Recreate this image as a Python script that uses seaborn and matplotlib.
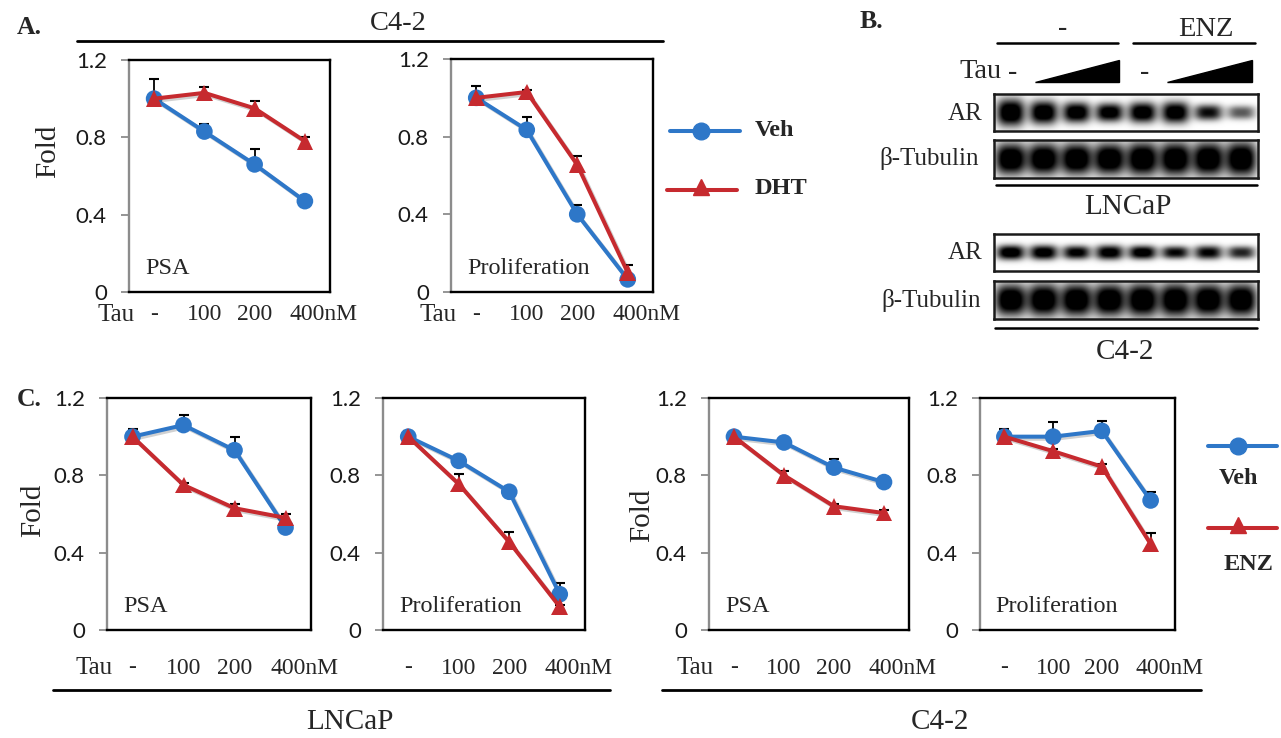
import numpy as np
import pandas as pd
import matplotlib
matplotlib.use("Agg")
import matplotlib.pyplot as plt
import matplotlib.patheffects as pe
from matplotlib.patches import Polygon
import seaborn as sns

W, H = 1281, 738

# ---------------- data ----------------
doses = ["-", "100", "200", "400nM"]

# A. C4-2 cells, Veh vs DHT
a_psa_veh = [1.00, 0.83, 0.66, 0.47]
a_psa_veh_err = [0.10, 0.04, 0.08, 0.01]
a_psa_dht = [1.00, 1.03, 0.95, 0.78]
a_psa_dht_err = [0.02, 0.03, 0.04, 0.02]
a_pro_veh = [1.00, 0.835, 0.40, 0.065]
a_pro_veh_err = [0.06, 0.065, 0.05, 0.02]
a_pro_dht = [1.00, 1.03, 0.655, 0.10]
a_pro_dht_err = [0.01, 0.01, 0.045, 0.04]

# C. LNCaP and C4-2 cells, Veh vs ENZ
c_lnc_psa_veh = [1.00, 1.06, 0.93, 0.53]
c_lnc_psa_veh_err = [0.04, 0.05, 0.07, 0.01]
c_lnc_psa_enz = [1.00, 0.75, 0.63, 0.58]
c_lnc_psa_enz_err = [0.01, 0.01, 0.02, 0.02]
c_lnc_pro_veh = [1.00, 0.875, 0.715, 0.185]
c_lnc_pro_veh_err = [0.03, 0.01, 0.01, 0.06]
c_lnc_pro_enz = [1.00, 0.755, 0.455, 0.12]
c_lnc_pro_enz_err = [0.01, 0.05, 0.05, 0.01]
c_c42_psa_veh = [1.00, 0.97, 0.84, 0.765]
c_c42_psa_veh_err = [0.01, 0.01, 0.045, 0.01]
c_c42_psa_enz = [1.00, 0.80, 0.64, 0.605]
c_c42_psa_enz_err = [0.01, 0.02, 0.01, 0.015]
c_c42_pro_veh = [1.00, 1.00, 1.03, 0.67]
c_c42_pro_veh_err = [0.04, 0.075, 0.05, 0.045]
c_c42_pro_enz = [1.00, 0.925, 0.845, 0.445]
c_c42_pro_enz_err = [0.01, 0.01, 0.015, 0.055]

# B. western blot, relative band intensity and band height (px) per lane
lanes = [1, 2, 3, 4, 5, 6, 7, 8]
lncap_ar = [1.0, 0.98, 0.95, 0.92, 0.95, 0.95, 0.78, 0.52]
lncap_ar_h = [28, 24, 21, 19, 21, 22, 16, 14]
lncap_tub = [1.0, 1.0, 1.0, 1.0, 1.0, 1.0, 1.0, 1.0]
lncap_tub_h = [32, 32, 32, 32, 34, 34, 34, 35]
c42_ar = [0.95, 0.92, 0.85, 0.90, 0.92, 0.80, 0.82, 0.70]
c42_ar_h = [15, 15, 14, 15, 14, 13, 14, 13]
c42_tub = [1.0, 1.0, 1.0, 1.0, 1.0, 1.0, 1.0, 1.0]
c42_tub_h = [32, 33, 33, 33, 34, 34, 33, 33]

BLUE = "#2e77c8"
RED = "#c62a2f"
SERIF = "Liberation Serif"
SANS = "Lato"


def px_axes(fig, x0, x1, y0, y1):
    return fig.add_axes([x0 / W, 1 - y1 / H, (x1 - x0) / W, (y1 - y0) / H])


#-----------------------------------------------
# One small Excel-style line chart
#-----------------------------------------------
def line_panel(ax, veh, veh_err, trt, trt_err, trt_name, label, tick_dy, tau):
    pos = list(range(len(doses)))
    df = pd.DataFrame({
        "pos": pos * 2,
        "fold": veh + trt,
        "group": ["Veh"] * 4 + [trt_name] * 4,
    })
    # upper error bars only
    for vals, errs in ((veh, veh_err), (trt, trt_err)):
        vals = np.array(vals)
        errs = np.array(errs)
        ax.errorbar(pos, vals, yerr=[np.zeros(4), errs], fmt="none",
                    ecolor="black", elinewidth=1.3, capsize=0, zorder=2)
        ax.scatter(pos, vals + errs, marker="_", s=60, color="black",
                   linewidths=1.5, zorder=2)

    sns.lineplot(data=df, x="pos", y="fold", hue="group", style="group",
                 hue_order=["Veh", trt_name], style_order=["Veh", trt_name],
                 palette=[BLUE, RED], markers=["o", "^"], dashes=False,
                 linewidth=2.9, markersize=12, markeredgewidth=0,
                 legend=False, ax=ax, zorder=3)
    for ln in ax.lines:
        ln.set_path_effects([pe.SimpleLineShadow(offset=(1.5, -1.5), alpha=0.2),
                             pe.Normal()])

    ax.set_xlim(-0.5, 3.5)
    ax.set_ylim(0, 1.2)
    ax.set_xlabel("")
    ax.set_ylabel("")
    ax.set_xticks([])
    ax.set_yticks([0, 0.4, 0.8, 1.2])
    ax.set_yticklabels(["0", "0.4", "0.8", "1.2"], fontfamily=SANS, fontsize=16,
                       color="#1a1a1a")
    ax.tick_params(axis="y", direction="out", length=6, width=1.3,
                   color="#8c8c8c", pad=10, left=True)
    for side in ("top", "right", "bottom"):
        ax.spines[side].set_color("black")
        ax.spines[side].set_linewidth(1.7)
    ax.spines["left"].set_color("#8c8c8c")
    ax.spines["left"].set_linewidth(1.7)

    ax.text(0.08, 0.10, label, transform=ax.transAxes, fontfamily=SERIF,
            fontsize=17.5, va="center", ha="left")

    for i, lab in enumerate(doses):
        dx = 19 if lab.endswith("nM") else 0
        ax.annotate(lab, xy=(i, 0), xycoords=("data", "axes fraction"),
                    xytext=(dx, -tick_dy), textcoords="offset pixels",
                    ha="center", va="center", fontfamily=SERIF, fontsize=17,
                    annotation_clip=False)
    if tau:
        ax.annotate("Tau", xy=(0, 0), xycoords=("data", "axes fraction"),
                    xytext=(-20, -tick_dy), textcoords="offset pixels",
                    ha="right", va="center", fontfamily=SERIF, fontsize=18,
                    annotation_clip=False)


#-----------------------------------------------
# Western blot strip drawn from lane intensities
#-----------------------------------------------
def blot_panel(ax, intens, heights, half_w):
    box_h = 38.0
    xs = np.linspace(0.5, 8.5, 528)
    ys = np.linspace(-box_h / 2, box_h / 2, 90)
    X, Y = np.meshgrid(xs, ys)
    img = np.zeros_like(X)
    for lane, a, h in zip(lanes, intens, heights):
        img += a * np.exp(-np.abs((X - lane) / half_w) ** 3
                          - np.abs(Y / (h / 2.0)) ** 2.5)
    img = np.clip(img * 1.25, 0, 1)
    ax.imshow(img, extent=(0.5, 8.5, -box_h / 2, box_h / 2), cmap="gray_r",
              vmin=0, vmax=1, aspect="auto", interpolation="bilinear")
    ax.set_xlim(0.5, 8.5)
    ax.set_ylim(-box_h / 2, box_h / 2)
    ax.set_xticks([])
    ax.set_yticks([])
    for sp in ax.spines.values():
        sp.set_color("#1a1a1a")
        sp.set_linewidth(1.8)


def main():
    sns.set_theme(style="white")
    plt.rcParams["font.family"] = [SERIF, "DejaVu Serif"]

    fig = plt.figure(figsize=(W / 100, H / 100), dpi=100, facecolor="white")

    # overlay in pixel coordinates for headers, brackets and legends
    ov = fig.add_axes([0, 0, 1, 1], zorder=-1)
    ov.set_xlim(0, W)
    ov.set_ylim(H, 0)
    ov.axis("off")

    # ---- panel A ----
    a1 = px_axes(fig, 129, 330, 60, 292)
    line_panel(a1, a_psa_veh, a_psa_veh_err, a_psa_dht, a_psa_dht_err,
               "DHT", "PSA", 23, True)
    a2 = px_axes(fig, 451, 653, 59, 292)
    line_panel(a2, a_pro_veh, a_pro_veh_err, a_pro_dht, a_pro_dht_err,
               "DHT", "Proliferation", 23, True)

    ov.text(17, 27, "A.", fontsize=18.5, fontweight="bold", va="center")
    ov.text(398, 24, "C4-2", fontsize=20.5, ha="center", va="center")
    ov.plot([77, 663], [41, 41], color="black", lw=2)
    ov.text(48, 151, "Fold", fontsize=21, rotation=90, ha="center", va="center")

    # legend A
    ov.plot([670, 740], [131, 131], color=BLUE, lw=2.9)
    ov.plot([701], [131], marker="o", ms=12, color=BLUE)
    ov.text(755, 131, "Veh", fontsize=17.5, fontweight="bold", va="center")
    ov.plot([667, 737], [190, 190], color=RED, lw=2.9)
    ov.plot([701], [187], marker="^", ms=12, color=RED)
    ov.text(755, 188, "DHT", fontsize=17.5, fontweight="bold", va="center")

    # ---- panel B ----
    ov.text(860, 22, "B.", fontsize=18.5, fontweight="bold", va="center")
    ov.text(1063, 28, "-", fontsize=20, ha="center", va="center")
    ov.text(1206, 29, "ENZ", fontsize=20.5, ha="center", va="center")
    ov.plot([997, 1118], [43, 43], color="black", lw=1.8)
    ov.plot([1133, 1255], [43, 43], color="black", lw=1.8)
    ov.text(1002, 72, "Tau", fontsize=20.5, ha="right", va="center")
    ov.text(1013, 73, "-", fontsize=20, ha="center", va="center")
    ov.text(1145, 73, "-", fontsize=20, ha="center", va="center")
    ov.add_patch(Polygon([(1035, 82), (1119, 82), (1119, 60)], closed=True,
                         color="black"))
    ov.add_patch(Polygon([(1167, 82), (1252, 82), (1252, 60)], closed=True,
                         color="black"))

    b1 = px_axes(fig, 994, 1258, 94, 131)
    blot_panel(b1, lncap_ar, lncap_ar_h, 0.42)
    b2 = px_axes(fig, 994, 1258, 140, 178)
    blot_panel(b2, lncap_tub, lncap_tub_h, 0.47)
    b3 = px_axes(fig, 994, 1258, 234, 271)
    blot_panel(b3, c42_ar, c42_ar_h, 0.42)
    b4 = px_axes(fig, 994, 1258, 281, 319)
    blot_panel(b4, c42_tub, c42_tub_h, 0.47)

    ov.text(982, 114, "AR", fontsize=18, ha="right", va="center")
    ov.text(979, 159, "\u03b2-Tubulin", fontsize=18, ha="right", va="center")
    ov.plot([996, 1257], [185, 185], color="black", lw=1.8)
    ov.text(1128, 207, "LNCaP", fontsize=21, ha="center", va="center")
    ov.text(982, 253, "AR", fontsize=18, ha="right", va="center")
    ov.text(981, 300, "\u03b2-Tubulin", fontsize=18, ha="right", va="center")
    ov.plot([995, 1257], [328, 328], color="black", lw=1.8)
    ov.text(1125, 352, "C4-2", fontsize=21, ha="center", va="center")

    # ---- panel C ----
    c1 = px_axes(fig, 107, 311, 398, 630)
    line_panel(c1, c_lnc_psa_veh, c_lnc_psa_veh_err, c_lnc_psa_enz,
               c_lnc_psa_enz_err, "ENZ", "PSA", 38, True)
    c2 = px_axes(fig, 383, 585, 398, 630)
    line_panel(c2, c_lnc_pro_veh, c_lnc_pro_veh_err, c_lnc_pro_enz,
               c_lnc_pro_enz_err, "ENZ", "Proliferation", 38, False)
    c3 = px_axes(fig, 709, 909, 398, 630)
    line_panel(c3, c_c42_psa_veh, c_c42_psa_veh_err, c_c42_psa_enz,
               c_c42_psa_enz_err, "ENZ", "PSA", 38, True)
    c4 = px_axes(fig, 980, 1175, 398, 630)
    line_panel(c4, c_c42_pro_veh, c_c42_pro_veh_err, c_c42_pro_enz,
               c_c42_pro_enz_err, "ENZ", "Proliferation", 38, False)

    ov.text(17, 399, "C.", fontsize=18.5, fontweight="bold", va="center")
    ov.text(33, 510, "Fold", fontsize=21, rotation=90, ha="center", va="center")
    ov.text(642, 515, "Fold", fontsize=21, rotation=90, ha="center", va="center")
    ov.plot([53, 610], [690, 690], color="black", lw=2)
    ov.text(350, 722, "LNCaP", fontsize=21, ha="center", va="center")
    ov.plot([662, 1201], [690, 690], color="black", lw=2)
    ov.text(940, 722, "C4-2", fontsize=21, ha="center", va="center")

    # legend C
    ov.plot([1208, 1277], [446, 446], color=BLUE, lw=2.9)
    ov.plot([1238], [446], marker="o", ms=12, color=BLUE)
    ov.text(1238, 478, "Veh", fontsize=17.5, fontweight="bold", ha="center", va="center")
    ov.plot([1208, 1277], [528, 528], color=RED, lw=2.9)
    ov.plot([1238], [525], marker="^", ms=12, color=RED)
    ov.text(1248, 564, "ENZ", fontsize=17.5, fontweight="bold", ha="center", va="center")

    fig.savefig("out.png", dpi=100, facecolor="white")


if __name__ == "__main__":
    main()
